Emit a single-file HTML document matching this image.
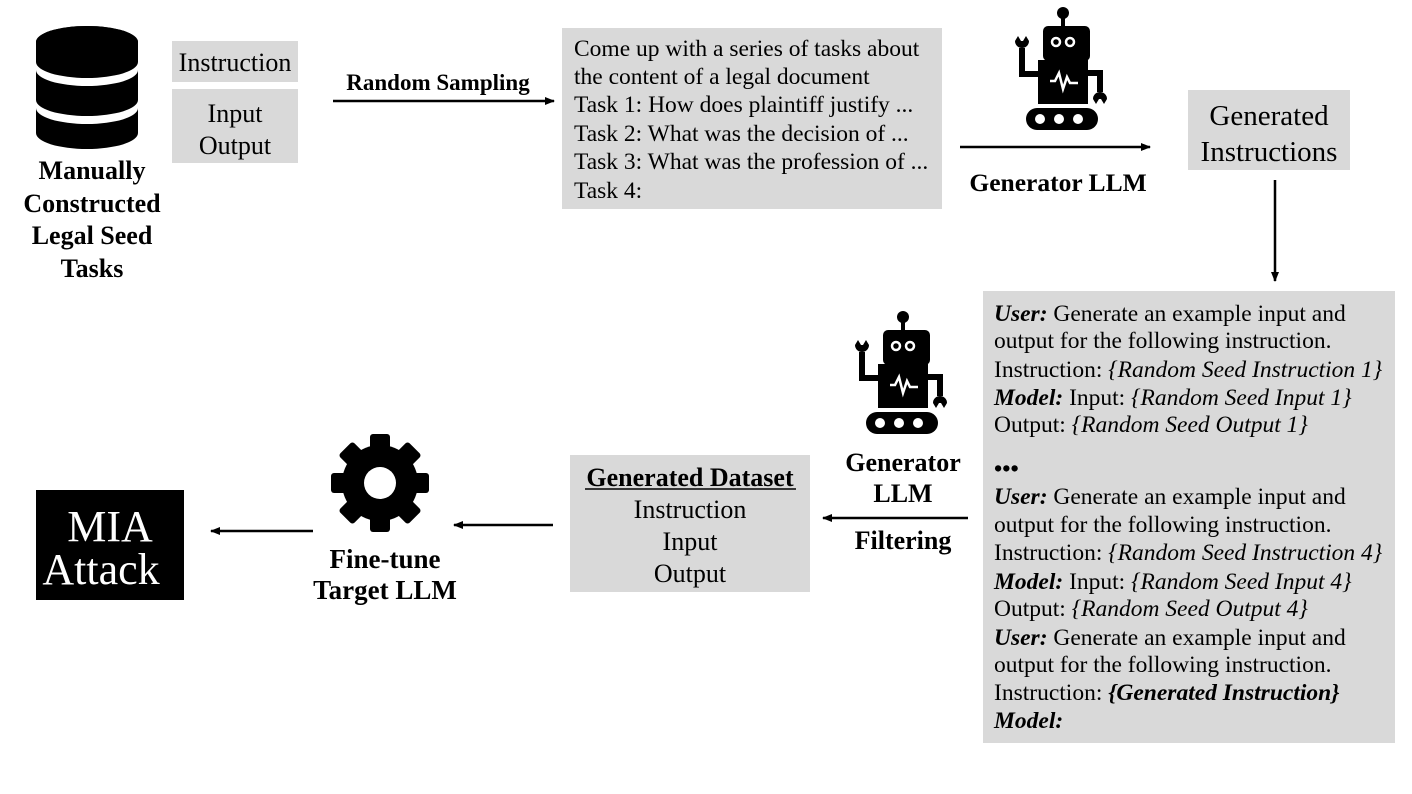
<!DOCTYPE html>
<html><head><meta charset="utf-8"><style>
html,body{margin:0;padding:0;background:#fff;width:1412px;height:794px;overflow:hidden}
svg text{font-family:"Liberation Serif",serif;fill:#000}
.b{font-weight:bold}
</style></head><body>
<svg width="1412" height="794" viewBox="0 0 1412 794" xmlns="http://www.w3.org/2000/svg">
<defs>
<marker id="ah" markerWidth="10" markerHeight="8" refX="9" refY="4" orient="auto" markerUnits="userSpaceOnUse">
<path d="M0,0 L10,4 L0,8 Z" fill="#000"/></marker>
<g id="robot">
<circle cx="903" cy="317" r="6"/>
<rect x="901" y="317" width="4" height="15"/>
<rect x="883" y="330" width="47" height="35" rx="5"/>
<circle cx="896" cy="346" r="4" fill="none" stroke="#fff" stroke-width="2.5"/>
<circle cx="910" cy="346" r="4" fill="none" stroke="#fff" stroke-width="2.5"/>
<rect x="878" y="364" width="50" height="44"/>
<path d="M890,385 L895,385 L899,377 L903,393 L907,381 L910,387 L918,387" fill="none" stroke="#fff" stroke-width="2.5"/>
<path d="M878,378 L862,378 L862,352" fill="none" stroke="#000" stroke-width="6"/>
<path d="M855,345 A7,7 0 0 0 869,345 L866,340 L863,345 L861,345 L858,340 Z"/>
<path d="M928,377 L940,377 L940,396" fill="none" stroke="#000" stroke-width="6"/>
<path d="M933,403 A7,7 0 0 1 947,403 L944,408 L941,403 L939,403 L936,408 Z"/>
<rect x="866" y="412" width="72" height="22" rx="11"/>
<circle cx="880" cy="423" r="5" fill="#fff"/><circle cx="899" cy="423" r="5" fill="#fff"/><circle cx="918" cy="423" r="5" fill="#fff"/>
</g>
</defs>

<!-- Database -->
<g fill="#000">
<path d="M36,42 A51,16 0 0 1 138,42 L138,62 A51,16 0 0 1 36,62 Z"/>
<path d="M36,70 A51,16 0 0 0 138,70 L138,100 A51,16 0 0 1 36,100 Z"/>
<path d="M36,108 A51,16 0 0 0 138,108 L138,133 A51,16 0 0 1 36,133 Z"/>
<ellipse cx="87" cy="42" rx="51" ry="16"/>
</g>
<text class="b" font-size="26" text-anchor="middle"><tspan x="92" y="179">Manually</tspan><tspan x="92" y="212">Constructed</tspan><tspan x="92" y="244">Legal Seed</tspan><tspan x="92" y="277">Tasks</tspan></text>

<rect x="172" y="41" width="126" height="41" fill="#d9d9d9"/>
<rect x="172" y="89" width="126" height="74" fill="#d9d9d9"/>
<text font-size="26" text-anchor="middle"><tspan x="235" y="71">Instruction</tspan><tspan x="235" y="122">Input</tspan><tspan x="235" y="154">Output</tspan></text>

<line x1="333" y1="101" x2="554" y2="101" stroke="#000" stroke-width="2.5" marker-end="url(#ah)"/>
<text class="b" font-size="23" x="438" y="90" text-anchor="middle">Random Sampling</text>

<rect x="562" y="28" width="380" height="181" fill="#d9d9d9"/>
<text font-size="23.5"><tspan x="574" y="56">Come up with a series of tasks about</tspan><tspan x="574" y="84">the content of a legal document</tspan><tspan x="574" y="112">Task 1: How does plaintiff justify ...</tspan><tspan x="574" y="141">Task 2: What was the decision of ...</tspan><tspan x="574" y="169">Task 3: What was the profession of ...</tspan><tspan x="574" y="198">Task 4:</tspan></text>

<use href="#robot" transform="translate(160,-304)"/>
<line x1="960" y1="147" x2="1150" y2="147" stroke="#000" stroke-width="2.5" marker-end="url(#ah)"/>
<text class="b" font-size="25.5" x="1058" y="191" text-anchor="middle">Generator LLM</text>

<rect x="1188" y="90" width="162" height="80" fill="#d9d9d9"/>
<text font-size="29" text-anchor="middle"><tspan x="1269" y="125">Generated</tspan><tspan x="1269" y="161">Instructions</tspan></text>

<line x1="1275" y1="180" x2="1275" y2="281" stroke="#000" stroke-width="2.5" marker-end="url(#ah)"/>

<rect x="983" y="291" width="412" height="452" fill="#d9d9d9"/>
<text font-size="23.5">
<tspan x="994" y="321"><tspan class="b" font-style="italic">User:</tspan> Generate an example input and</tspan>
<tspan x="994" y="348">output for the following instruction.</tspan>
<tspan x="994" y="377">Instruction: <tspan font-style="italic">{Random Seed Instruction 1}</tspan></tspan>
<tspan x="994" y="405"><tspan class="b" font-style="italic">Model:</tspan> Input: <tspan font-style="italic">{Random Seed Input 1}</tspan></tspan>
<tspan x="994" y="432">Output: <tspan font-style="italic">{Random Seed Output 1}</tspan></tspan>
<tspan x="994" y="476" class="b">•••</tspan>
<tspan x="994" y="504"><tspan class="b" font-style="italic">User:</tspan> Generate an example input and</tspan>
<tspan x="994" y="532">output for the following instruction.</tspan>
<tspan x="994" y="560">Instruction: <tspan font-style="italic">{Random Seed Instruction 4}</tspan></tspan>
<tspan x="994" y="589"><tspan class="b" font-style="italic">Model:</tspan> Input: <tspan font-style="italic">{Random Seed Input 4}</tspan></tspan>
<tspan x="994" y="616">Output: <tspan font-style="italic">{Random Seed Output 4}</tspan></tspan>
<tspan x="994" y="645"><tspan class="b" font-style="italic">User:</tspan> Generate an example input and</tspan>
<tspan x="994" y="672">output for the following instruction.</tspan>
<tspan x="994" y="700">Instruction: <tspan class="b" font-style="italic">{Generated Instruction}</tspan></tspan>
<tspan x="994" y="728" class="b" font-style="italic">Model:</tspan>
</text>

<use href="#robot"/>
<text class="b" font-size="26" text-anchor="middle"><tspan x="903" y="471">Generator</tspan><tspan x="903" y="502">LLM</tspan></text>
<line x1="968" y1="518" x2="823" y2="518" stroke="#000" stroke-width="2.5" marker-end="url(#ah)"/>
<text class="b" font-size="26" x="903" y="549" text-anchor="middle">Filtering</text>

<rect x="570" y="455" width="240" height="137" fill="#d9d9d9"/>
<text font-size="26" text-anchor="middle"><tspan x="690" y="486" class="b">Generated Dataset</tspan><tspan x="690" y="518">Instruction</tspan><tspan x="690" y="550">Input</tspan><tspan x="690" y="582">Output</tspan></text>
<line x1="585" y1="489" x2="796" y2="489" stroke="#000" stroke-width="1.5"/>

<line x1="553" y1="525" x2="454" y2="525" stroke="#000" stroke-width="2.5" marker-end="url(#ah)"/>

<!-- gear -->
<g transform="translate(380,483)">
<g fill="#000">
<circle r="38"/>
<rect x="-10" y="-49" width="20" height="98" rx="3"/>
<rect x="-10" y="-49" width="20" height="98" rx="3" transform="rotate(45)"/>
<rect x="-10" y="-49" width="20" height="98" rx="3" transform="rotate(90)"/>
<rect x="-10" y="-49" width="20" height="98" rx="3" transform="rotate(135)"/>
</g>
<circle r="16" fill="#fff"/>
</g>
<text class="b" font-size="27" text-anchor="middle"><tspan x="385" y="568">Fine-tune</tspan><tspan x="385" y="599">Target LLM</tspan></text>

<line x1="313" y1="531" x2="211" y2="531" stroke="#000" stroke-width="2.5" marker-end="url(#ah)"/>

<rect x="36" y="490" width="148" height="110" fill="#000"/>
<text font-size="44" text-anchor="middle"><tspan x="110" y="541" style="fill:#fff">MIA</tspan><tspan x="101" y="584" style="fill:#fff">Attack</tspan></text>
</svg>
</body></html>
